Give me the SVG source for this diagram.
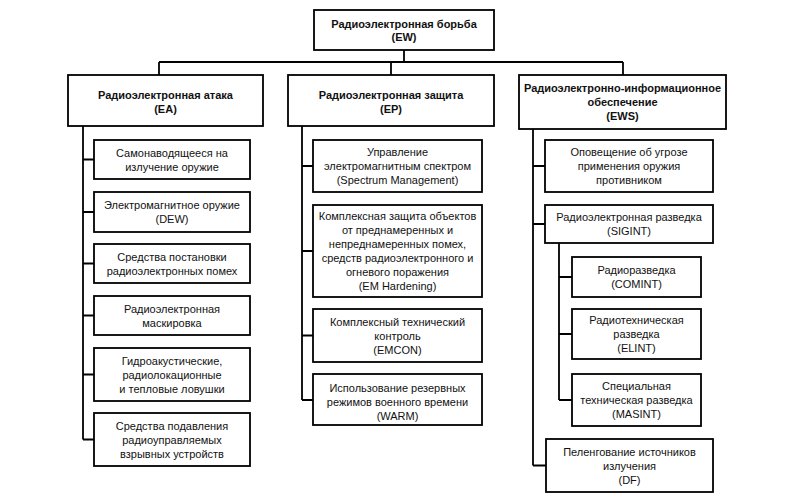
<svg xmlns="http://www.w3.org/2000/svg" width="799" height="498" viewBox="0 0 799 498">
<style>
.box{fill:#fff;stroke:#000;stroke-width:1.8}
.ln{fill:none;stroke:#000;stroke-width:1.8}
text{font-family:"Liberation Sans",Arial,sans-serif;font-size:11px;fill:#111;text-anchor:middle}
.b{font-weight:bold}
</style>
<rect width="799" height="498" fill="#fff"/>
<g id="connectors" class="ln">
<path d="M404,50V62M159,62H623M159,62V75M391,62V75M623,62V75"/>
<path d="M83,126V439.5M83,159.5H94M83,212H94M83,263.5H94M83,315.5H94M83,374.5H94M83,439.5H94"/>
<path d="M302,126V400M302,166H313M302,251H313M302,335.5H313M302,400H313"/>
<path d="M533,129V465.5M533,166H545M533,224H545M533,465.5H546"/>
<path d="M559,243V400M559,277H572M559,334H572M559,400H572"/>
</g>
<g id="ew"><rect class="box" x="314" y="10" width="180" height="40"/><text class="b" x="404" y="27.5">Радиоэлектронная борьба</text><text class="b" x="404" y="41">(EW)</text></g>
<g id="ea"><rect class="box" x="68" y="75" width="195" height="51"/><text class="b" x="165.5" y="98.5">Радиоэлектронная атака</text><text class="b" x="165.5" y="112.5">(EA)</text></g>
<g id="ep"><rect class="box" x="288" y="75" width="206" height="51"/><text class="b" x="391" y="98.5">Радиоэлектронная защита</text><text class="b" x="391" y="112.5">(EP)</text></g>
<g id="ews"><rect class="box" x="519" y="75" width="207" height="54"/><text class="b" x="622.5" y="92">Радиоэлектронно-информационное</text><text class="b" x="622.5" y="106">обеспечение</text><text class="b" x="622.5" y="120">(EWS)</text></g>
<g id="ea1"><rect class="box" x="94" y="140" width="156" height="39"/><text x="172" y="156.5">Самонаводящееся на</text><text x="172" y="170.5">излучение оружие</text></g>
<g id="ea2"><rect class="box" x="94" y="192" width="156" height="40"/><text x="172" y="209">Электромагнитное оружие</text><text x="172" y="223">(DEW)</text></g>
<g id="ea3"><rect class="box" x="94" y="244" width="156" height="39"/><text x="172" y="260.5">Средства постановки</text><text x="172" y="274.5">радиоэлектронных помех</text></g>
<g id="ea4"><rect class="box" x="94" y="296" width="156" height="39"/><text x="172" y="312.5">Радиоэлектронная</text><text x="172" y="326.5">маскировка</text></g>
<g id="ea5"><rect class="box" x="94" y="348" width="156" height="53"/><text x="172" y="364.5">Гидроакустические,</text><text x="172" y="378.5">радиолокационные</text><text x="172" y="392.5">и тепловые ловушки</text></g>
<g id="ea6"><rect class="box" x="94" y="413" width="156" height="53"/><text x="172" y="429.5">Средства подавления</text><text x="172" y="443.5">радиоуправляемых</text><text x="172" y="457.5">взрывных устройств</text></g>
<g id="ep1"><rect class="box" x="313" y="140" width="169" height="52"/><text x="397.5" y="156">Управление</text><text x="397.5" y="170">электромагнитным спектром</text><text x="397.5" y="184">(Spectrum Management)</text></g>
<g id="ep2"><rect class="box" x="313" y="205" width="169" height="92"/><text x="397.5" y="220">Комплексная защита объектов</text><text x="397.5" y="234">от преднамеренных и</text><text x="397.5" y="248">непреднамеренных помех,</text><text x="397.5" y="262">средств радиоэлектронного и</text><text x="397.5" y="276">огневого поражения</text><text x="397.5" y="290">(EM Hardening)</text></g>
<g id="ep3"><rect class="box" x="313" y="309" width="169" height="53"/><text x="397.5" y="325.5">Комплексный технический</text><text x="397.5" y="339.5">контроль</text><text x="397.5" y="353.5">(EMCON)</text></g>
<g id="ep4"><rect class="box" x="313" y="374" width="169" height="51"/><text x="397.5" y="392">Использование резервных</text><text x="397.5" y="406">режимов военного времени</text><text x="397.5" y="420">(WARM)</text></g>
<g id="ews1"><rect class="box" x="545" y="140" width="168" height="52"/><text x="629" y="156">Оповещение об угрозе</text><text x="629" y="170">применения оружия</text><text x="629" y="184">противником</text></g>
<g id="ews2"><rect class="box" x="545" y="205" width="168" height="38"/><text x="629" y="221">Радиоэлектронная разведка</text><text x="629" y="235">(SIGINT)</text></g>
<g id="ews3"><rect class="box" x="572" y="257" width="129" height="40"/><text x="636.5" y="274">Радиоразведка</text><text x="636.5" y="288">(COMINT)</text></g>
<g id="ews4"><rect class="box" x="572" y="309" width="129" height="50"/><text x="636.5" y="324">Радиотехническая</text><text x="636.5" y="338">разведка</text><text x="636.5" y="352">(ELINT)</text></g>
<g id="ews5"><rect class="box" x="572" y="374" width="129" height="52"/><text x="636.5" y="390">Специальная</text><text x="636.5" y="404">техническая разведка</text><text x="636.5" y="418">(MASINT)</text></g>
<g id="ews6"><rect class="box" x="546" y="439" width="167" height="53"/><text x="629.5" y="455.5">Пеленгование источников</text><text x="629.5" y="469.5">излучения</text><text x="629.5" y="483.5">(DF)</text></g>
</svg>
